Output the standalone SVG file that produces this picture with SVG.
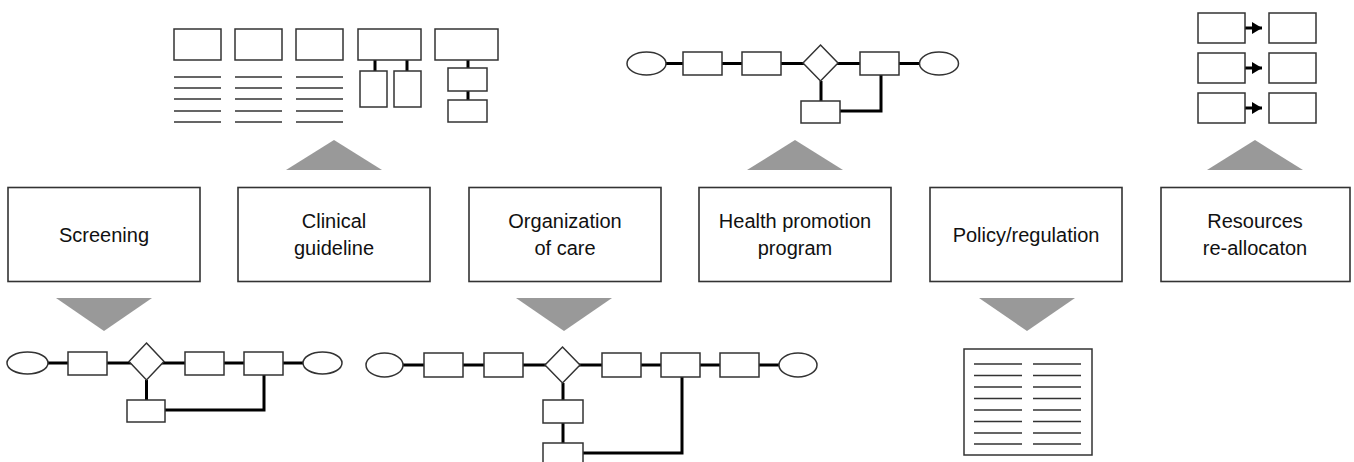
<svg xmlns="http://www.w3.org/2000/svg" width="1354" height="462" viewBox="0 0 1354 462">
<defs>
<style>
.box{fill:#fff;stroke:#333;stroke-width:1.6}
.sh{fill:#fff;stroke:#333;stroke-width:1.5}
.ln{stroke:#333;stroke-width:1.5;fill:none}
.cn{stroke:#000;stroke-width:3;fill:none}
.tri{fill:#999}
.lbl{font-family:"Liberation Sans",Arial,sans-serif;font-size:20px;fill:#111;text-anchor:middle}
</style>
<marker id="ah" viewBox="0 0 10 12" refX="10" refY="6" markerWidth="10" markerHeight="12" markerUnits="userSpaceOnUse" orient="auto">
<path d="M0,0 L10,6 L0,12 Z" fill="#000"/>
</marker>
</defs>
<rect width="1354" height="462" fill="#fff"/>

<g id="connectors">
<polygon class="tri" points="286,170 382,170 334,140"/>
<polygon class="tri" points="747,170 843,170 795,140"/>
<polygon class="tri" points="1207,170 1303,170 1255,140"/>
<polygon class="tri" points="56,298 152,298 104,331"/>
<polygon class="tri" points="516,298 612,298 564,331"/>
<polygon class="tri" points="979,298 1075,298 1027,331"/>
</g>

<g id="screening">
<rect class="box" x="8" y="187.5" width="192" height="94"/>
<text class="lbl" x="104" y="242">Screening</text>
</g>
<g id="clinical-guideline">
<rect class="box" x="238" y="187.5" width="192" height="94"/>
<text class="lbl" x="334" y="228">Clinical</text>
<text class="lbl" x="334" y="255">guideline</text>
</g>
<g id="organization-of-care">
<rect class="box" x="469" y="187.5" width="192" height="94"/>
<text class="lbl" x="565" y="228">Organization</text>
<text class="lbl" x="565" y="255">of care</text>
</g>
<g id="health-promotion">
<rect class="box" x="699" y="187.5" width="192" height="94"/>
<text class="lbl" x="795" y="228">Health promotion</text>
<text class="lbl" x="795" y="255">program</text>
</g>
<g id="policy-regulation">
<rect class="box" x="930" y="187.5" width="192" height="94"/>
<text class="lbl" x="1026" y="242">Policy/regulation</text>
</g>
<g id="resources">
<rect class="box" x="1161" y="187.5" width="189" height="94"/>
<text class="lbl" x="1255" y="228">Resources</text>
<text class="lbl" x="1255" y="255">re-allocaton</text>
</g>

<g id="guideline-icon">
<rect class="sh" x="174" y="29" width="47" height="31"/>
<rect class="sh" x="235" y="29" width="47" height="31"/>
<rect class="sh" x="296" y="29" width="47" height="31"/>
<path class="ln" d="M174,77H221M174,88H221M174,99H221M174,111H221M174,122H221"/>
<path class="ln" d="M235,77H282M235,88H282M235,99H282M235,111H282M235,122H282"/>
<path class="ln" d="M296,77H343M296,88H343M296,99H343M296,111H343M296,122H343"/>
<path class="cn" d="M375,60V71M407,60V71M468,60V68M468,91V100"/>
<rect class="sh" x="358" y="29" width="63" height="31"/>
<rect class="sh" x="360" y="71" width="27" height="36"/>
<rect class="sh" x="394" y="71" width="27" height="36"/>
<rect class="sh" x="435" y="29" width="63" height="31"/>
<rect class="sh" x="448" y="68" width="39" height="23"/>
<rect class="sh" x="448" y="100" width="39" height="22"/>
</g>

<g id="health-flow">
<path class="cn" d="M666,63.5H920M821,81V101M840,111H881V75"/>
<ellipse class="sh" cx="646.5" cy="63.5" rx="19.5" ry="11.5"/>
<rect class="sh" x="683" y="52" width="39" height="23"/>
<rect class="sh" x="742" y="52" width="39" height="23"/>
<polygon class="sh" points="820.5,45 838,63 820.5,81 803,63"/>
<rect class="sh" x="860" y="52" width="39" height="23"/>
<ellipse class="sh" cx="939" cy="63.5" rx="19.5" ry="11.5"/>
<rect class="sh" x="801" y="101" width="39" height="22"/>
</g>

<g id="resources-icon">
<path class="cn" d="M1245,28H1262" marker-end="url(#ah)"/>
<path class="cn" d="M1245,68H1262" marker-end="url(#ah)"/>
<path class="cn" d="M1245,108H1262" marker-end="url(#ah)"/>
<rect class="sh" x="1198" y="13" width="47" height="30"/>
<rect class="sh" x="1269" y="13" width="47" height="30"/>
<rect class="sh" x="1198" y="53" width="47" height="30"/>
<rect class="sh" x="1269" y="53" width="47" height="30"/>
<rect class="sh" x="1198" y="93" width="47" height="30"/>
<rect class="sh" x="1269" y="93" width="47" height="30"/>
</g>

<g id="screening-flow">
<path class="cn" d="M48,363H303M146.5,380V400M165,410H264V375"/>
<ellipse class="sh" cx="27.5" cy="363" rx="20.5" ry="11"/>
<rect class="sh" x="68" y="352" width="39" height="23"/>
<polygon class="sh" points="146.5,343 164,361.5 146.5,380 129,361.5"/>
<rect class="sh" x="185" y="352" width="39" height="23"/>
<rect class="sh" x="244" y="352" width="39" height="23"/>
<ellipse class="sh" cx="322.5" cy="363" rx="19.5" ry="11"/>
<rect class="sh" x="127" y="400" width="38" height="22"/>
</g>

<g id="organization-flow">
<path class="cn" d="M403,365H779M563,383V443M583,453H682V377"/>
<ellipse class="sh" cx="384.5" cy="365" rx="18.5" ry="12"/>
<rect class="sh" x="424" y="353" width="39" height="24"/>
<rect class="sh" x="484" y="353" width="39" height="24"/>
<polygon class="sh" points="562.5,347 580,365 562.5,383 545,365"/>
<rect class="sh" x="602" y="353" width="39" height="24"/>
<rect class="sh" x="661" y="353" width="39" height="24"/>
<rect class="sh" x="720" y="353" width="39" height="24"/>
<ellipse class="sh" cx="798" cy="365" rx="19" ry="12"/>
<rect class="sh" x="543" y="400" width="40" height="23"/>
<rect class="sh" x="543" y="443" width="40" height="25"/>
</g>

<g id="policy-document">
<rect class="sh" x="964" y="349" width="128" height="106"/>
<path class="ln" d="M974,364H1022M974,375.5H1022M974,387H1022M974,398.5H1022M974,410H1022M974,421.5H1022M974,433H1022M974,444H1022"/>
<path class="ln" d="M1033,364H1081M1033,375.5H1081M1033,387H1081M1033,398.5H1081M1033,410H1081M1033,421.5H1081M1033,433H1081M1033,444H1081"/>
</g>
</svg>
